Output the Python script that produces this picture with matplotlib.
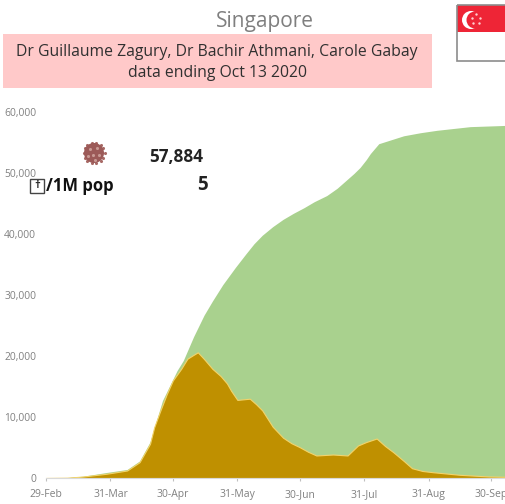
import numpy as np
import matplotlib.pyplot as plt
from matplotlib.patches import Circle, Rectangle

plt.rcParams['font.family'] = ['Open Sans', 'DejaVu Sans']

# days since 29 Feb 2020
cum_days = [0, 10, 18, 29, 39, 45, 50, 56, 63, 66, 71, 76, 80, 85, 91, 96, 100, 104, 109, 114, 119, 124, 129, 135, 140, 145, 148, 151, 154, 156, 160, 172, 180, 188, 204, 221, 227]
cum_cases = [0, 60, 300, 900, 1400, 2800, 5900, 12700, 17600, 19260, 23200, 26700, 29000, 31700, 34500, 36700, 38400, 39800, 41200, 42400, 43400, 44300, 45300, 46300, 47500, 49000, 49900, 50900, 52200, 53200, 54800, 56100, 56600, 57000, 57600, 57800, 57884]

active_days = [0, 10, 18, 29, 39, 45, 50, 52, 55, 58, 61, 65, 68, 71, 73, 76, 80, 84, 87, 89, 92, 98, 101, 104, 109, 114, 118, 122, 126, 130, 138, 145, 150, 154, 159, 163, 167, 172, 176, 181, 186, 199, 213, 221, 227]
active_cases = [0, 40, 250, 690, 1230, 2600, 5600, 8300, 11070, 13700, 16000, 17900, 19560, 20200, 20600, 19500, 17900, 16700, 15500, 14300, 12800, 13000, 12100, 11070, 8400, 6600, 5700, 5050, 4300, 3690, 3850, 3690, 5330, 5900, 6470, 5250, 4230, 2800, 1600, 1150, 950, 520, 250, 200, 150]

tick_days = [0, 31, 61, 92, 122, 153, 184, 214]
tick_labels = ['29-Feb', '31-Mar', '30-Apr', '31-May', '30-Jun', '31-Jul', '31-Aug', '30-Sep']
y_ticks = [0, 10000, 20000, 30000, 40000, 50000, 60000]

fig = plt.figure(figsize=(5.05, 5.04), dpi=100)
ax = fig.add_axes([46 / 505, 26 / 504, 459 / 505, 366 / 504])
ax.fill_between(cum_days, cum_cases, color='#A9D18E', lw=0)
ax.fill_between(active_days, active_cases, color='#BF9000', edgecolor='#F2D36B', lw=0.8)
ax.set_xlim(0, 220.7)
ax.set_ylim(0, 60000)
ax.set_xticks(tick_days)
ax.set_xticklabels(tick_labels, fontsize=7.5, color='#808080')
ax.set_yticks(y_ticks)
ax.set_yticklabels([f'{v:,}' for v in y_ticks], fontsize=7.4, color='#808080')
ax.tick_params(axis='x', length=2, color='#BFBFBF', pad=6)
ax.tick_params(axis='y', length=0, pad=7)
for s in ['top', 'right', 'left']:
    ax.spines[s].set_visible(False)
ax.spines['bottom'].set_color('#D9D9D9')

# overlay in pixel coords for the header, flag and counters
ov = fig.add_axes([0, 0, 1, 1])
ov.set_xlim(0, 505)
ov.set_ylim(504, 0)
ov.axis('off')

ov.text(265, 22, 'Singapore', fontsize=15, color='#7F7F7F', ha='center', va='center')
ov.add_patch(Rectangle((3, 34), 429, 54, fc='#FFC9C9', ec='none'))
ov.text(217, 52, 'Dr Guillaume Zagury, Dr Bachir Athmani, Carole Gabay', fontsize=11.3, color='#303030', ha='center', va='center')
ov.text(217, 73, 'data ending Oct 13 2020', fontsize=11.3, color='#303030', ha='center', va='center')

# flag
ov.add_patch(Rectangle((457, 5), 60, 27, fc='#EE2536', ec='none'))
ov.add_patch(Rectangle((457, 32), 60, 29, fc='white', ec='none'))
ov.add_patch(Rectangle((457, 5), 60, 56, fc='none', ec='#8C8C8C', lw=1.2))
ov.add_patch(Circle((471, 20), 9, fc='white', ec='none'))
ov.add_patch(Circle((475, 20), 8.5, fc='#EE2536', ec='none'))
ov.scatter([476, 480, 479, 473, 472], [14, 18, 23, 23, 18], s=3, c='#FFD0D0', lw=0)

# virus icon
ang = np.arange(0, 2 * np.pi, np.pi / 7)
ov.scatter(94 + 10.5 * np.cos(ang), 153 + 10.5 * np.sin(ang), s=5, c='#A86A66', lw=0)
ov.add_patch(Circle((94, 153), 10, fc='#9C5A58', ec='none'))
ov.scatter([90, 97, 93, 99, 88, 95], [149, 148, 155, 155, 156, 160], s=5, c='#C99A94', lw=0)

ov.text(203, 157, '57,884', fontsize=12.3, fontweight='bold', color='#222222', ha='right', va='center')
ov.text(208, 185, '5', fontsize=13.5, fontweight='bold', color='#222222', ha='right', va='center')
ov.add_patch(Rectangle((30, 179), 14, 14, fc='white', ec='#444444', lw=1))
ov.text(37, 186, '†', fontsize=8, fontweight='bold', color='#222222', ha='center', va='center')
ov.text(46, 186, '/1M pop', fontsize=12, fontweight='bold', color='#111111', ha='left', va='center')

fig.savefig('out.png', dpi=100)
